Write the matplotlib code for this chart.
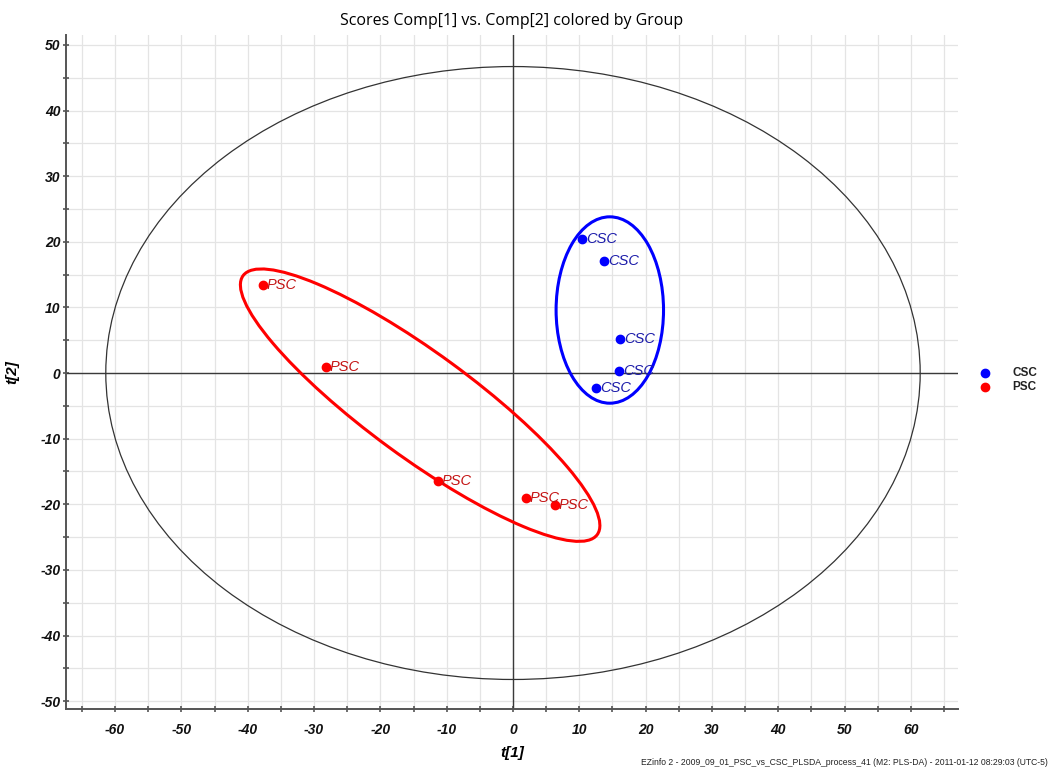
import numpy as np
import matplotlib
matplotlib.use("Agg")
import matplotlib.pyplot as plt
from matplotlib.patches import Ellipse
from matplotlib.ticker import MultipleLocator

plt.rcParams["axes.unicode_minus"] = False

# PLS-DA scores, t[1] vs t[2]
groups = ["CSC", "PSC"]
csc_t1 = [10.4, 13.7, 16.1, 16.0, 12.5]
csc_t2 = [20.4, 17.1, 5.2, 0.3, -2.3]
psc_t1 = [-37.7, -28.2, -11.3, 1.9, 6.3]
psc_t2 = [13.4, 0.9, -16.5, -19.1, -20.1]

# Hotelling T2 ellipse (95%) semi-axes
t2_axes = [61.4, 46.7]

# group ellipses: centre, width, height, angle
csc_ell = [(14.6, 9.6), 16.2, 28.4, 0]
psc_ell = [(-14.0, -4.9), 66.4, 15.9, -36.5]

blue = "#0000ff"
red = "#ff0000"
spine_col = "#555555"

fig = plt.figure(figsize=(10.51, 7.72), dpi=100)
ax = fig.add_axes([0.0628, 0.0816, 0.8487, 0.873])
ax.set_axisbelow(True)

ax.set_xlim(-67.4, 67.1)
ax.set_ylim(-51.2, 51.5)

ax.xaxis.set_major_locator(MultipleLocator(10))
ax.xaxis.set_minor_locator(MultipleLocator(5))
ax.yaxis.set_major_locator(MultipleLocator(10))
ax.yaxis.set_minor_locator(MultipleLocator(5))
ax.grid(True, which="both", color="#e4e4e4", lw=0.9)

for s in ["top", "right"]:
    ax.spines[s].set_visible(False)
for s in ["left", "bottom"]:
    ax.spines[s].set_color(spine_col)
    ax.spines[s].set_linewidth(1.4)

ax.tick_params(which="both", direction="inout", length=4, width=1.2, color=spine_col)
ax.tick_params(axis="y", pad=2)
ax.tick_params(axis="x", pad=8)
for lab in ax.get_xticklabels() + ax.get_yticklabels():
    lab.set_fontfamily("Liberation Sans")
    lab.set_fontweight("bold")
    lab.set_fontstyle("italic")
    lab.set_fontsize(10)
    lab.set_color("#111111")

# origin lines
ax.axhline(0, color="#3a3a3a", lw=1.0, zorder=2)
ax.axvline(0, color="#3a3a3a", lw=1.0, zorder=2)

ax.add_patch(Ellipse((0, 0), 2 * t2_axes[0], 2 * t2_axes[1], fill=False,
                     ec="#333333", lw=0.9, zorder=2))
ax.add_patch(Ellipse(csc_ell[0], csc_ell[1], csc_ell[2], angle=csc_ell[3],
                     fill=False, ec=blue, lw=2.2, zorder=3))
ax.add_patch(Ellipse(psc_ell[0], psc_ell[1], psc_ell[2], angle=psc_ell[3],
                     fill=False, ec=red, lw=2.2, zorder=3))

ax.scatter(csc_t1, csc_t2, s=36, color=blue, zorder=4)
ax.scatter(psc_t1, psc_t2, s=36, color=red, zorder=4)
for x, y in zip(csc_t1, csc_t2):
    ax.text(x + 0.6, y, "CSC", color="#1c1caa", fontsize=10.5, style="italic",
            fontfamily="Liberation Sans", va="center", ha="left", zorder=5)
for x, y in zip(psc_t1, psc_t2):
    ax.text(x + 0.6, y, "PSC", color="#c41414", fontsize=10.5, style="italic",
            fontfamily="Liberation Sans", va="center", ha="left", zorder=5)

ax.set_title("Scores Comp[1] vs. Comp[2] colored by Group", fontsize=11.5,
             fontfamily="Open Sans", pad=7)
ax.set_xlabel("t[1]", fontsize=11, fontweight="bold", style="italic",
              fontfamily="Liberation Sans")
ax.xaxis.set_label_coords(0.5, -0.055)
ax.set_ylabel("t[2]", fontsize=11, fontweight="bold", style="italic",
              fontfamily="Liberation Sans")
ax.yaxis.set_label_coords(-0.052, 0.5)

# legend outside right
fig.lines.append(plt.Line2D([0.9372], [1 - 373 / 772], marker="o", ms=6, color=blue,
                            ls="none", transform=fig.transFigure))
fig.lines.append(plt.Line2D([0.9372], [1 - 387 / 772], marker="o", ms=6, color=red,
                            ls="none", transform=fig.transFigure))
for i, g in enumerate(groups):
    fig.text(0.963, 1 - (373 + 14 * i) / 772, g, fontsize=8.5, fontweight="bold",
             fontfamily="Liberation Sans", va="center", ha="left", color="#222222")

fig.text(0.997, 0.006,
         "EZinfo 2 - 2009_09_01_PSC_vs_CSC_PLSDA_process_41 (M2: PLS-DA) - 2011-01-12 08:29:03 (UTC-5)",
         fontsize=6.2, fontfamily=["Liberation Sans Narrow", "Liberation Sans"],
         ha="right", va="bottom", color="#222222")

fig.savefig("out.png", dpi=100)
